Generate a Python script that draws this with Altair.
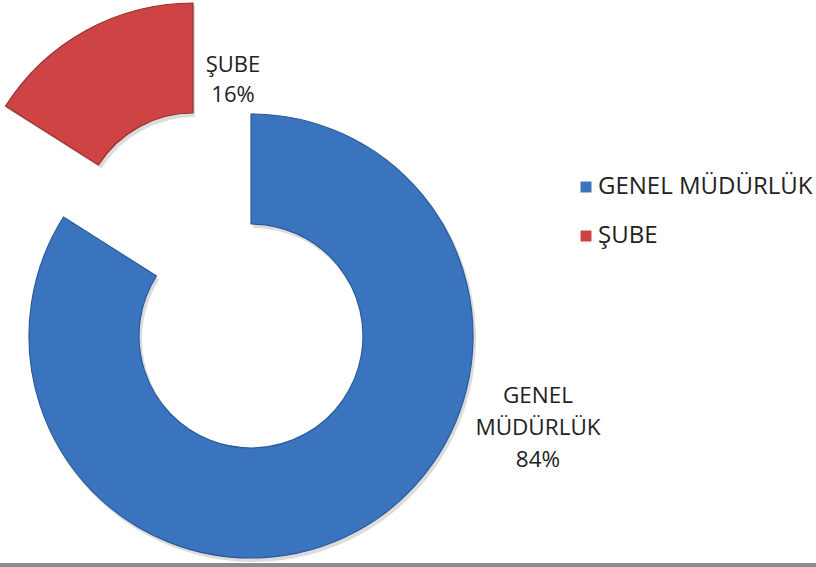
import altair as alt
import pandas as pd
import math

categories = ["GENEL MÜDÜRLÜK", "ŞUBE"]
values = [84, 16]
order = [1, 2]
colors = ["#3B74BE", "#CE4444"]
strokes = ["#2A5A9A", "#9A2E2E"]

df = pd.DataFrame({"category": categories, "value": values, "order": order})

FONT = "Open Sans"
theta_scale = alt.Scale(domain=[0, 100], range=[0, 2 * math.pi])

base = (
    alt.Chart(df)
    .transform_window(cum="sum(value)", sort=[alt.SortField("order")])
    .transform_calculate(start="datum.cum - datum.value",
                         label="datum.category + ' ' + datum.value + '%'")
)

color_enc = alt.Color(
    "category:N",
    scale=alt.Scale(domain=categories, range=colors),
    legend=alt.Legend(
        title=None, orient="none", legendX=574, legendY=175, padding=0,
        symbolType="square", symbolSize=121, symbolStrokeWidth=0,
        labelFont=FONT, labelFontSize=24, labelColor="#222222",
        labelOffset=0, rowPadding=25, labelLimit=400,
    ),
)

def slice_layers(cat, cx, cy, stroke):
    b = base.transform_filter(alt.datum.category == cat)
    shadow = b.mark_arc(radius=223, radius2=111, color="#9a9a9a", opacity=0.35).encode(
        theta=alt.Theta("start:Q", stack=None, scale=theta_scale),
        theta2="cum:Q",
        x=alt.value(cx + 2), y=alt.value(cy + 3),
    )
    arc = b.mark_arc(radius=222, radius2=112, stroke=stroke, strokeWidth=1.2).encode(
        theta=alt.Theta("start:Q", stack=None, scale=theta_scale),
        theta2="cum:Q",
        color=color_enc,
        x=alt.value(cx), y=alt.value(cy),
    )
    return shadow, arc

bs, ba = slice_layers("GENEL MÜDÜRLÜK", 251, 336, strokes[0])
rs, ra = slice_layers("ŞUBE", 193, 225, strokes[1])

label_blue = base.transform_filter(alt.datum.category == "GENEL MÜDÜRLÜK").mark_text(
    font=FONT, fontSize=22.5, color="#222222", align="center", baseline="alphabetic",
    lineBreak=" ", lineHeight=32,
).encode(text="label:N", x=alt.value(538), y=alt.value(403))

label_red = base.transform_filter(alt.datum.category == "ŞUBE").mark_text(
    font=FONT, fontSize=22, color="#222222", align="center", baseline="alphabetic",
    lineBreak=" ", lineHeight=30,
).encode(text="label:N", x=alt.value(233), y=alt.value(72))

bottom_bar = alt.Chart(df).mark_rect(color="#8C8C8C").encode(
    x=alt.value(0), x2=alt.value(816), y=alt.value(563), y2=alt.value(567)
)

chart = (
    alt.layer(bs, rs, ba, ra, label_blue, label_red, bottom_bar)
    .properties(width=816, height=567, padding=0, autosize="none", background="white")
    .configure_view(stroke=None)
)

chart.save("out.html", embed_options={"renderer": "svg", "actions": False})
